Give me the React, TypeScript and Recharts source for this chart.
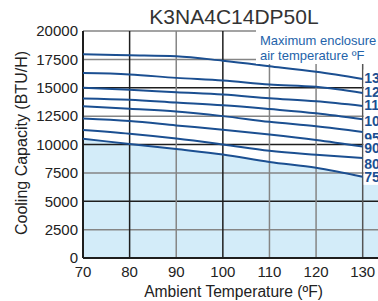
import {
  ComposedChart,
  Line,
  Area,
  XAxis,
  YAxis,
  ReferenceLine,
} from "recharts";

// ambient temperature (°F) along the x axis
const temps = [70, 80, 90, 100, 110, 120, 130];

// cooling capacity (BTU/H) per max enclosure air temperature
const cap130 = [17950, 17870, 17780, 17380, 16900, 16400, 15770];
const cap120 = [16290, 16170, 15870, 15640, 15290, 15080, 14530];
const cap110 = [14990, 14820, 14600, 14400, 14080, 13800, 13400];
const cap100 = [14060, 13940, 13690, 13450, 13120, 12750, 12220];
const cap95 = [13380, 13150, 12910, 12500, 12000, 11600, 11100];
const cap90 = [12300, 12070, 11680, 11300, 10880, 10400, 9820];
const cap80 = [11280, 10950, 10530, 10010, 9450, 9100, 8800];
const cap75 = [10500, 10050, 9600, 9120, 8450, 7950, 7150];

// shaded region continues past the last tick at the 75°F level
const fillEdgeTemp = 135;
const fillEdgeValue = 7150;

const seriesNames = ["130", "120", "110", "100", "95", "90", "80", "75"];
const seriesValues = [cap130, cap120, cap110, cap100, cap95, cap90, cap80, cap75];

const xTicks = [70, 80, 90, 100, 110, 120, 130];
const yTicks = [0, 2500, 5000, 7500, 10000, 12500, 15000, 17500, 20000];

// label nudges (px) so end labels don't collide
const labelShift = [-1.5, -1.5, -1, 2, 6, 1, 6, 0];

const data = temps.map((t, i) => {
  const row: Record<string, number> = { temp: t, fill: cap75[i] };
  seriesNames.forEach((n, s) => {
    row["s" + n] = seriesValues[s][i];
  });
  return row;
});
data.push({ temp: fillEdgeTemp, fill: fillEdgeValue });

const LINE = "#1b4f91";
const DARK = "#1e1e1e";
const GRAY = "#858585";
const darkY = [5000, 10000, 15000];
const darkX = [80, 100];

const font = "'Liberation Sans', Arial, sans-serif";

const endLabel = (name: string, shift: number) => (p: any) => {
  if (p.index !== temps.length - 1) return <g />;
  const y = p.y + shift;
  return (
    <g>
      <rect x={p.x + 1} y={y - 8} width={34} height={16} fill="#fff" />
      <text
        x={p.x + 1.5}
        y={y + 5}
        fill={LINE}
        fontSize={14}
        fontWeight="bold"
        fontFamily={font}
      >
        {name}
      </text>
    </g>
  );
};

export default function App() {
  return (
    <div
      style={{
        position: "absolute",
        left: 0,
        top: 0,
        width: 378,
        height: 301,
        overflow: "hidden",
        background: "#fff",
      }}
    >
      <ComposedChart
        width={400}
        height={301}
        data={data}
        margin={{ top: 31, right: 14, bottom: 0, left: 0 }}
      >
        <XAxis
          dataKey="temp"
          type="number"
          domain={[70, 135]}
          ticks={xTicks}
          allowDataOverflow
          axisLine={false}
          tickLine={false}
          height={43}
          tick={{ fill: "#222", fontSize: 15, fontFamily: font }}
        />
        <YAxis
          type="number"
          domain={[0, 20000]}
          ticks={yTicks}
          axisLine={false}
          tickLine={false}
          width={83}
          tickSize={3}
          tickMargin={2}
          tick={{ fill: "#222", fontSize: 15, fontFamily: font }}
        />
        <Area
          dataKey="fill"
          type="monotone"
          stroke="none"
          fill="#d3ecf9"
          fillOpacity={1}
          isAnimationActive={false}
        />
        {yTicks.slice(1).map((v) => (
          <ReferenceLine
            key={"h" + v}
            y={v}
            stroke={darkY.includes(v) ? DARK : GRAY}
            strokeWidth={1.5}
          />
        ))}
        {xTicks.slice(1).map((v) => (
          <ReferenceLine
            key={"v" + v}
            x={v}
            stroke={darkX.includes(v) ? DARK : v === 130 ? "#555" : GRAY}
            strokeWidth={1.5}
          />
        ))}
        <ReferenceLine x={70} stroke={DARK} strokeWidth={2} />
        <ReferenceLine y={0} stroke={DARK} strokeWidth={2} />
        {seriesNames.map((n, s) => (
          <Line
            key={n}
            dataKey={"s" + n}
            type="monotone"
            stroke={LINE}
            strokeWidth={2}
            dot={false}
            isAnimationActive={false}
            label={endLabel(n, labelShift[s])}
          />
        ))}
      </ComposedChart>
      <svg
        width={378}
        height={301}
        style={{ position: "absolute", left: 0, top: 0, pointerEvents: "none" }}
      >
        <text
          x={234}
          y={23.5}
          textAnchor="middle"
          fontSize={21}
          fill="#333"
          fontFamily={font}
        >
          K3NA4C14DP50L
        </text>
        <text
          x={233.5}
          y={297}
          textAnchor="middle"
          fontSize={15.6}
          fill="#222"
          fontFamily={font}
        >
          Ambient Temperature (ºF)
        </text>
        <text
          transform="translate(26.5 143) rotate(-90)"
          textAnchor="middle"
          fontSize={16}
          fill="#222"
          fontFamily={font}
        >
          Cooling Capacity (BTU/H)
        </text>
        <rect x={256} y={29} width={130} height={35} fill="#fff" />
        <text x={260} y={45} fontSize={13} fill="#2463aa" fontFamily={font}>
          Maximum enclosure
        </text>
        <text x={260} y={60} fontSize={13} fill="#2463aa" fontFamily={font}>
          air temperature ºF
        </text>
      </svg>
    </div>
  );
}
